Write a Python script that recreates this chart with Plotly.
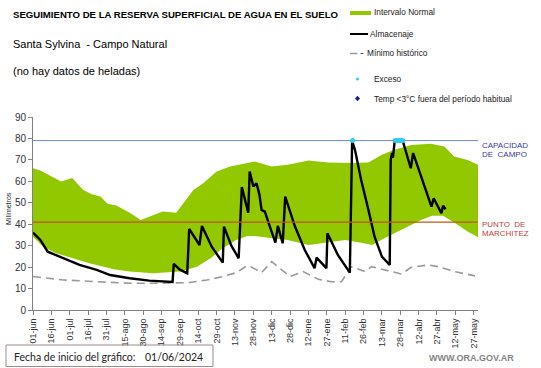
import plotly.graph_objects as go

# ---------------- data ----------------
tick_labels = ["01-jun", "16-jun", "01-jul", "16-jul", "31-jul", "15-ago", "30-ago", "14-sep",
               "29-sep", "14-oct", "29-oct", "13-nov", "28-nov", "13-dic", "28-dic", "12-ene",
               "27-ene", "11-feb", "26-feb", "13-mar", "28-mar", "12-abr", "27-abr", "12-may", "27-may"]
tick_days = [15 * i for i in range(len(tick_labels))]

upper_day = [0, 6, 23, 32, 41, 48, 55, 61, 68, 79, 88, 98, 106, 117, 123, 131, 139, 150, 161, 172,
             181, 195, 208, 225, 241, 260, 274, 285, 295, 309, 325, 336, 344, 355, 363.5]
upper_val = [66.1, 65.0, 59.9, 61.5, 56.0, 54.0, 52.9, 49.5, 48.7, 45.4, 42.0, 44.3, 45.9, 45.4, 49.8,
             56.0, 59.1, 64.6, 66.9, 68.0, 69.2, 66.9, 67.7, 69.7, 68.8, 68.5, 68.8, 72.4, 74.7, 77.0,
             77.5, 76.2, 71.6, 70.0, 67.7]

lower_day = [0, 8, 19, 33, 46, 66, 79, 98, 109, 120, 134, 145, 155, 166, 175, 181, 189, 208, 225,
             241, 255, 268, 277, 287, 301, 317, 326, 335, 345, 355, 363.5]
lower_val = [34.2, 29.6, 26.5, 24.1, 21.8, 19.0, 17.9, 17.1, 17.4, 17.9, 20.2, 24.1, 28.8, 32.7, 34.5,
             34.5, 33.9, 32.7, 30.3, 31.4, 32.7, 31.4, 30.3, 33.5, 37.3, 42.0, 43.9, 43.9, 40.5, 36.6, 33.9]

alm_day = [0, 6, 12, 25, 38, 52, 63, 79, 95, 114, 115, 120, 126, 127.6, 136, 138, 146, 155, 156, 162,
           168, 170.6, 175.8, 177, 180, 182.6, 185, 186.7, 189.4, 193.5, 198, 200, 204, 206, 214, 222,
           230, 231.6, 239.7, 240.5, 249, 258.8, 260.7, 263, 268, 274, 279, 285, 291.4, 292.2, 293.3,
           294, 295.5, 302, 303, 308.6, 310.5, 317.3, 325.5, 327.3, 333.6, 335, 337]
alm_val = [36.1, 32.7, 27.2, 24.1, 21.0, 18.7, 16.3, 14.8, 13.7, 13.1, 21.5, 18.8, 17.1, 37.8, 30.3, 39.2,
           29.5, 22.1, 38.9, 30.0, 24.1, 57.3, 45.4, 64.6, 57.6, 59.1, 53.7, 46.7, 45.9, 38.9, 31.4, 39.2,
           31.1, 52.9, 38.9, 28.0, 19.5, 24.4, 19.5, 35.8, 25.7, 17.4, 78.8, 74.7, 60.7, 46.7, 34.2, 24.9,
           21.0, 70.0, 73.2, 71.0, 79.0, 79.0, 77.0, 66.1, 73.2, 62.2, 48.2, 52.1, 45.1, 48.6, 47.0]

min_day = [0, 25, 52, 79, 106, 128, 142, 155, 166, 174.5, 178, 186.7, 195, 201.6, 209.8, 220.7, 233,
           243.8, 252, 260, 271, 276.5, 287, 301, 309, 322.7, 331, 344.5, 361]
min_val = [15.6, 14.0, 13.2, 12.5, 12.5, 12.8, 14.0, 15.6, 17.4, 20.5, 20.2, 17.4, 22.6, 19.5, 15.6,
           17.9, 14.3, 13.2, 13.2, 20.2, 17.9, 20.2, 18.7, 16.8, 19.9, 21.0, 20.2, 17.9, 15.9]

exceso_day = [261, 296, 297, 298, 299, 300, 301, 302]
exceso_val = [79, 79, 79, 79, 79, 79, 79, 79]

capacidad_campo = 79
punto_marchitez = 41

# ---------------- layout geometry ----------------
W, H = 541, 368
L, R, T, B = 33, 63, 117, 58
FONT = "Liberation Sans, Arial, sans-serif"


def px(x):
    return (x - L) / (W - L - R)


def py(y):
    return 1 - (y - T) / (H - T - B)


fig = go.Figure()

fig.add_trace(go.Scatter(x=lower_day, y=lower_val, mode="lines", line=dict(width=0, color="#92c800"),
                         showlegend=False, hoverinfo="skip"))
fig.add_trace(go.Scatter(x=upper_day, y=upper_val, mode="lines", line=dict(width=0, color="#92c800"),
                         fill="tonexty", fillcolor="#92c800", showlegend=False, name="Intervalo Normal"))
fig.add_trace(go.Scatter(x=min_day, y=min_val, mode="lines",
                         line=dict(color="#9a9a9a", width=1.6, dash="8px,5px"),
                         showlegend=False, name="Mínimo histórico"))
fig.add_trace(go.Scatter(x=alm_day, y=alm_val, mode="lines", line=dict(color="#000000", width=2.4),
                         showlegend=False, name="Almacenaje"))
fig.add_trace(go.Scatter(x=exceso_day, y=exceso_val, mode="markers",
                         marker=dict(color="#33ccee", size=5, symbol="circle"),
                         showlegend=False, name="Exceso"))

shapes = [
    dict(type="line", xref="paper", x0=0, x1=1, yref="y", y0=capacidad_campo, y1=capacidad_campo,
         line=dict(color="#6a8dd0", width=1), layer="below"),
    dict(type="line", xref="paper", x0=0, x1=1, yref="y", y0=punto_marchitez, y1=punto_marchitez,
         line=dict(color="#c0560f", width=1.4), layer="above"),
]

# legend (drawn manually)
shapes += [
    dict(type="rect", xref="paper", yref="paper", x0=px(350), x1=px(371), y0=py(15), y1=py(11),
         fillcolor="#92c800", line=dict(width=0)),
    dict(type="line", xref="paper", yref="paper", x0=px(350), x1=px(368), y0=py(34), y1=py(34),
         line=dict(color="#000000", width=2)),
    dict(type="line", xref="paper", yref="paper", x0=px(350), x1=px(357.5), y0=py(53.5), y1=py(53.5),
         line=dict(color="#9a9a9a", width=1.5)),
    dict(type="line", xref="paper", yref="paper", x0=px(360.5), x1=px(363.5), y0=py(53.5), y1=py(53.5),
         line=dict(color="#555555", width=1)),
    dict(type="circle", xref="paper", yref="paper", x0=px(356), x1=px(359), y0=py(80.5), y1=py(77.5),
         fillcolor="#33ccee", line=dict(width=0)),
    dict(type="path", xref="paper", yref="paper",
         path="M {a},{b} L {c},{d} L {a},{e} L {f},{d} Z".format(
             a=px(357.5), b=py(95.8), c=px(360), d=py(98.5), e=py(101.2), f=px(355)),
         fillcolor="#1a1aa0", line=dict(width=0)),
    dict(type="rect", xref="paper", yref="paper", x0=px(6), x1=px(213), y0=py(366.5), y1=py(345),
         line=dict(color="#9c8c8c", width=1), fillcolor="rgba(0,0,0,0)"),
]


def ann(x, y, text, size, color="#000000", xanchor="left", bold=False, family=FONT, **kw):
    if bold:
        text = "<b>" + text + "</b>"
    return dict(x=px(x), y=py(y), xref="paper", yref="paper", text=text, showarrow=False,
                xanchor=xanchor, yanchor="middle", font=dict(size=size, color=color, family=family), **kw)


annotations = [
    ann(11, 15, "SEGUIMIENTO DE LA RESERVA SUPERFICIAL DE AGUA EN EL SUELO", 9.6, bold=True),
    ann(11, 44, "Santa Sylvina  - Campo Natural", 11),
    ann(11, 71, "(no hay datos de heladas)", 11),
    ann(372, 12.5, "Intervalo Normal", 8.3, color="#222222"),
    ann(368, 34, "Almacenaje", 8.3, color="#222222"),
    ann(365, 53.5, "Mínimo histórico", 8.3, color="#222222"),
    ann(372, 79, "Exceso", 8.3, color="#222222"),
    ann(372, 98.5, "Temp <3°C fuera del período habitual", 8.3, color="#222222"),
    ann(480, 145, "CAPACIDAD", 8, color="#3a3aa8"),
    ann(480, 154, "DE  CAMPO", 8, color="#3a3aa8"),
    ann(480, 224, "PUNTO  DE", 8, color="#c84040"),
    ann(480, 233.5, "MARCHITEZ", 8, color="#c84040"),
    ann(12, 357, "Fecha de inicio del gráfico:", 10.5, color="#222222", family="Lato, sans-serif"),
    ann(143, 357, "01/06/2024", 10.5, color="#222222", family="Lato, sans-serif"),
    ann(427, 358, "WWW.ORA.GOV.AR", 9, color="#858585", bold=True),
    dict(x=px(8), y=py(209), xref="paper", yref="paper", text="Milímetros", showarrow=False,
         textangle=-90, xanchor="center", yanchor="middle", font=dict(size=7, color="#222222", family=FONT)),
]

fig.update_layout(
    width=W, height=H, autosize=False,
    margin=dict(l=L, r=R, t=T, b=B, pad=0),
    paper_bgcolor="white", plot_bgcolor="white",
    font=dict(family=FONT, color="#404040"),
    showlegend=False,
    shapes=shapes,
    annotations=annotations,
    xaxis=dict(range=[0, 363.5], tickmode="array", tickvals=tick_days, ticktext=tick_labels,
               tickangle=-90, tickfont=dict(size=9, color="#333333"), ticks="outside", ticklen=4,
               tickcolor="#808080", showline=True, linecolor="#808080", linewidth=1,
               showgrid=False, zeroline=False, fixedrange=True),
    yaxis=dict(range=[0, 90], tickmode="array", tickvals=list(range(0, 91, 10)),
               tickfont=dict(size=10, color="#333333"), ticks="outside", ticklen=4,
               tickcolor="#808080", showline=True, linecolor="#808080", linewidth=1,
               showgrid=False, zeroline=False, fixedrange=True),
)

fig.write_html("out.html", config={"displayModeBar": False},
               post_script="document.body.style.margin='0';document.body.style.overflow='hidden';")
